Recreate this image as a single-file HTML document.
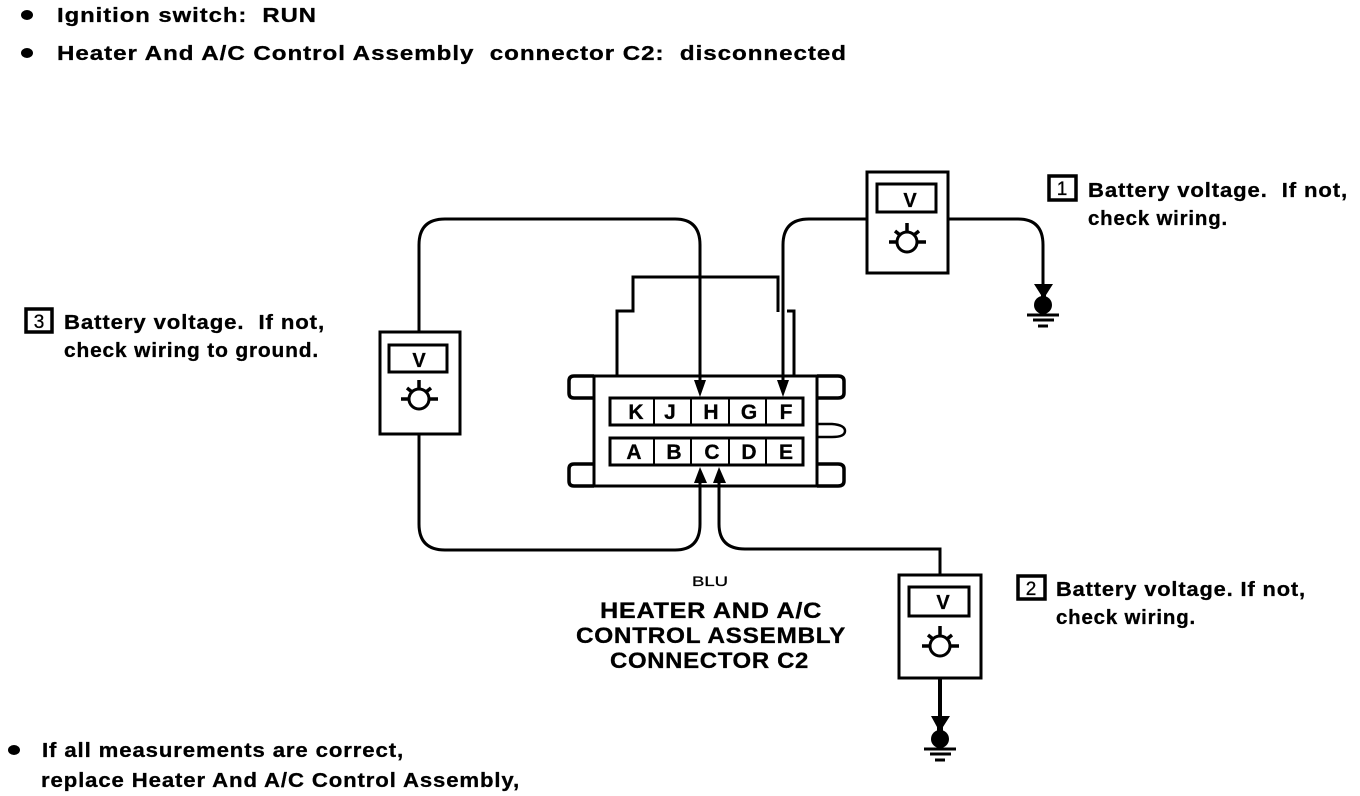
<!DOCTYPE html>
<html>
<head>
<meta charset="utf-8">
<style>
html,body{margin:0;padding:0;background:#fff;width:1360px;height:796px;overflow:hidden}
svg{display:block}
text{font-family:"Liberation Sans",sans-serif;fill:#000;font-weight:bold;stroke:#000;stroke-width:.3;white-space:pre}
.w{fill:none;stroke:#000;stroke-width:3}
.c{fill:none;stroke:#000;stroke-width:3.5}
.t{font-size:20px;letter-spacing:.8px}
.h{font-size:22px;letter-spacing:.6px}
</style>
</head>
<body>
<svg width="1360" height="796" viewBox="0 0 1360 796" xmlns="http://www.w3.org/2000/svg">
<rect width="1360" height="796" fill="#fff"/>

<!-- top notes -->
<ellipse cx="27" cy="15" rx="6" ry="5"/>
<ellipse cx="27" cy="53" rx="6" ry="5"/>
<text class="t" x="57" y="22" textLength="260" lengthAdjust="spacingAndGlyphs">Ignition switch:  RUN</text>
<text class="t" x="57" y="60" textLength="790" lengthAdjust="spacingAndGlyphs">Heater And A/C Control Assembly  connector C2:  disconnected</text>

<!-- wires -->
<path class="w" d="M419 332V245Q419 219 445 219H675Q700 219 700 245V385"/>
<path class="w" d="M419 434V524Q419 550 445 550H675Q700 550 700 524V480"/>
<path class="w" d="M719 480V524Q719 549 745 549H940V575"/>
<path class="w" d="M783 385V245Q783 219 809 219H866"/>
<path class="w" d="M948 219H1018Q1043 219 1043 245V285"/>
<path class="w" d="M940 678V718" style="stroke-width:4"/>

<!-- connector shell -->
<path class="w" d="M617 375V311H633V277H778V312"/>
<path class="w" d="M787 311H794V375"/>
<rect class="w" x="594" y="376" width="223" height="110"/>
<path class="c" d="M594 376H574Q569 376 569 381V393Q569 398 574 398H594"/>
<path class="c" d="M594 464H574Q569 464 569 469V481Q569 486 574 486H594"/>
<path class="c" d="M817 376H838Q844 376 844 381V393Q844 398 838 398H817"/>
<path class="c" d="M817 464H838Q844 464 844 469V481Q844 486 838 486H817"/>
<path d="M817 424H832Q845 425 845 431Q845 437 832 437H817" fill="none" stroke="#000" stroke-width="2.5"/>

<!-- terminal rows -->
<rect class="w" x="610" y="398" width="193" height="27"/>
<rect class="w" x="610" y="438" width="193" height="27"/>
<path d="M654 398V425M691 398V425M729 398V425M766 398V425M654 438V465M691 438V465M729 438V465M766 438V465" stroke="#000" stroke-width="2" fill="none"/>
<g text-anchor="middle" style="font-size:21px">
<text x="636" y="419">K</text>
<text x="670" y="419">J</text>
<text x="711" y="419">H</text>
<text x="749" y="419">G</text>
<text x="786" y="419">F</text>
<text x="634" y="459">A</text>
<text x="674" y="459">B</text>
<text x="712" y="459">C</text>
<text x="749" y="459">D</text>
<text x="786" y="459">E</text>
</g>

<!-- arrowheads -->
<path d="M694 380H706L700 397Z M777 380H789L783 397Z"/>
<path d="M694 483H707L700 467Z M713 483H726L719 467Z"/>

<!-- meter 1 -->
<rect class="w" x="867" y="172" width="81" height="101"/>
<rect class="w" x="877" y="184" width="59" height="28"/>
<text x="910" y="207" text-anchor="middle" style="font-size:20px">V</text>
<circle class="w" cx="907" cy="242" r="10"/>
<path d="M889 242H896M918 242H926M907 223V232M895 231L900 235M919 231L914 235" stroke="#000" stroke-width="3.5"/>

<!-- meter 3 -->
<rect class="w" x="380" y="332" width="80" height="102"/>
<rect class="w" x="389" y="345" width="58" height="27"/>
<text x="419" y="367" text-anchor="middle" style="font-size:20px">V</text>
<circle class="w" cx="419" cy="399" r="10"/>
<path d="M401 399H408M430 399H438M419 380V389M407 388L412 392M431 388L426 392" stroke="#000" stroke-width="3.5"/>

<!-- meter 2 -->
<rect class="w" x="899" y="575" width="82" height="103"/>
<rect class="w" x="909" y="587" width="60" height="29"/>
<text x="943" y="609" text-anchor="middle" style="font-size:20px">V</text>
<circle class="w" cx="940" cy="646" r="10"/>
<path d="M922 646H929M951 646H959M940 626V636M928 635L933 639M952 635L947 639" stroke="#000" stroke-width="3.5"/>

<!-- ground 1 -->
<path d="M1034 284H1053L1046 295V298H1041V295Z"/>
<circle cx="1043" cy="305" r="9"/>
<path d="M1027 315H1059" stroke="#000" stroke-width="3"/>
<path d="M1033 320H1054" stroke="#000" stroke-width="3"/>
<path d="M1038 326H1048" stroke="#000" stroke-width="3"/>

<!-- ground 2 -->
<path d="M931 716H950L943 727V733H937V727Z"/>
<circle cx="940" cy="739" r="9"/>
<path d="M924 749H956" stroke="#000" stroke-width="3"/>
<path d="M930 754H951" stroke="#000" stroke-width="3"/>
<path d="M935 760H945" stroke="#000" stroke-width="3"/>

<!-- note 1 -->
<rect class="c" x="1049" y="176" width="27" height="24"/>
<text x="1062" y="195" text-anchor="middle" style="font-size:19px;font-weight:normal">1</text>
<text class="t" x="1088" y="197" textLength="260" lengthAdjust="spacingAndGlyphs">Battery voltage.  If not,</text>
<text class="t" x="1088" y="225" textLength="140" lengthAdjust="spacingAndGlyphs">check wiring.</text>

<!-- note 2 -->
<rect class="c" x="1018" y="576" width="27" height="23"/>
<text x="1031" y="595" text-anchor="middle" style="font-size:19px;font-weight:normal">2</text>
<text class="t" x="1056" y="596" textLength="250" lengthAdjust="spacingAndGlyphs">Battery voltage. If not,</text>
<text class="t" x="1056" y="624" textLength="140" lengthAdjust="spacingAndGlyphs">check wiring.</text>

<!-- note 3 -->
<rect class="c" x="26" y="309" width="26" height="23"/>
<text x="39" y="328" text-anchor="middle" style="font-size:19px;font-weight:normal">3</text>
<text class="t" x="64" y="329" textLength="261" lengthAdjust="spacingAndGlyphs">Battery voltage.  If not,</text>
<text class="t" x="64" y="357" textLength="255" lengthAdjust="spacingAndGlyphs">check wiring to ground.</text>

<!-- connector label -->
<text x="692" y="586" textLength="36" lengthAdjust="spacingAndGlyphs" style="font-size:14px;font-weight:normal">BLU</text>
<text class="h" x="600" y="618" textLength="222" lengthAdjust="spacingAndGlyphs">HEATER AND A/C</text>
<text class="h" x="576" y="643" textLength="270" lengthAdjust="spacingAndGlyphs">CONTROL ASSEMBLY</text>
<text class="h" x="610" y="668" textLength="199" lengthAdjust="spacingAndGlyphs">CONNECTOR C2</text>

<!-- bottom note -->
<ellipse cx="14" cy="750" rx="6" ry="5"/>
<text class="t" x="42" y="757" textLength="362" lengthAdjust="spacingAndGlyphs">If all measurements are correct,</text>
<text class="t" x="41" y="787" textLength="479" lengthAdjust="spacingAndGlyphs">replace Heater And A/C Control Assembly,</text>
</svg>
</body>
</html>
